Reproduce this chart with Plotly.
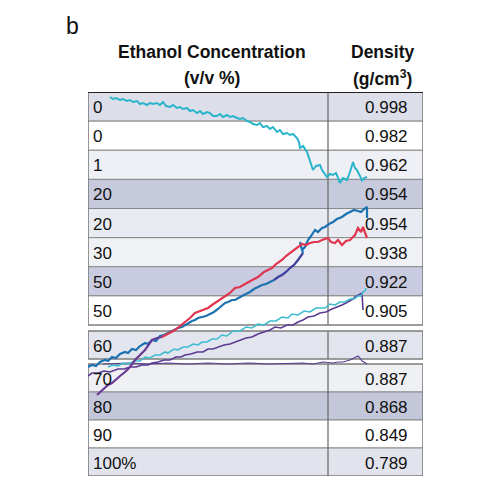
import plotly.graph_objects as go

# ── Table content ──────────────────────────────────────
concentration = ['0', '0', '1', '20', '20', '30', '50', '50',
                 '60', '70', '80', '90', '100%']
density = ['0.998', '0.982', '0.962', '0.954', '0.954', '0.938', '0.922', '0.905',
           '0.887', '0.887', '0.868', '0.849', '0.789']

# ── Traces (time along x, signal down the table) ───────
top_cyan_x = [22, 25, 28, 32, 35, 39, 42, 45, 49, 52, 55, 59, 62, 65, 69, 72, 75, 78, 82, 85,
              89, 92, 95, 99, 102, 105, 109, 112, 115, 119, 122, 125, 129, 132, 135, 139, 142,
              145, 149, 152, 155, 159, 162, 165, 169, 172, 175, 179, 182, 185, 189, 192, 195,
              199, 202, 205, 209, 211, 212, 215, 219, 221, 223, 225, 228, 232, 234, 237, 239,
              242, 245, 248, 252, 255, 259, 262, 265, 267, 269, 272, 274, 276, 279]
top_cyan_y = [5, 7, 6, 8, 7, 9, 8, 10, 9, 12, 11, 13, 11, 12, 11, 13, 10, 14, 15, 13,
              16, 15, 17, 16, 19, 18, 21, 19, 22, 20, 21, 24, 24, 22, 25, 23, 25,
              24, 26, 27, 26, 29, 30, 32, 33, 31, 35, 34, 37, 35, 40, 38, 42,
              41, 43, 42, 46, 50, 56, 54, 60, 66, 71, 78, 74, 73, 78, 83, 85,
              82, 83, 81, 91, 86, 88, 80, 70, 76, 78, 84, 89, 86, 85]

blue_a_x = [0, 4, 8, 12, 17, 20, 24, 28, 32, 37, 40, 44, 48, 52, 57, 60, 64, 68, 72, 76,
            80, 84, 87, 90, 94, 97, 100, 104, 107, 110, 114, 118, 122, 126, 130, 134, 137,
            140, 144, 147, 150, 154, 158, 162, 166, 170, 174, 178, 182, 186]
blue_a_y = [275, 273, 274, 270, 268, 269, 265, 266, 262, 260, 261, 257, 258, 254, 251, 252,
            248, 249, 244, 243, 241, 239, 238, 236, 235, 233, 231, 229, 228, 226, 225, 224,
            222, 220, 217, 213, 211, 210, 208, 208, 206, 204, 202, 200, 197, 195, 193, 192,
            190, 188]
indigo_x = [186, 190, 194, 198, 202, 206, 210, 213, 215]
indigo_y = [188, 185, 183, 180, 176, 173, 168, 164, 161]
blue_b_x = [215, 212, 214, 217, 220, 223, 227, 230, 234, 237, 241, 245, 249, 254, 258, 262,
            266, 270, 273, 276, 279, 279]
blue_b_y = [161, 150, 158, 155, 148, 144, 138, 140, 136, 135, 132, 130, 127, 125, 122, 120,
            118, 119, 120, 117, 115, 126]

red_start_x = [9, 12, 16, 20, 24, 28, 32, 37, 42, 47, 52, 57, 62, 64, 69, 74]
red_start_y = [303, 300, 296, 293, 291, 287, 284, 280, 275, 268, 263, 258, 251, 248, 246, 245]
red_x = [74, 78, 83, 87, 92, 97, 102, 107, 112, 116, 120, 124, 127, 132, 137, 142, 147, 152,
         157, 162, 166, 170, 176, 180, 184, 188, 194, 198, 203, 207, 211, 214, 218, 222, 226,
         230, 234, 237, 240, 243, 247, 250, 254, 258, 262, 264, 267, 270, 273, 275, 277, 279]
red_y = [245, 243, 240, 238, 234, 230, 226, 221, 219, 217, 216, 213, 211, 208, 205, 201, 196,
         195, 192, 189, 187, 185, 180, 178, 176, 172, 168, 164, 160, 157, 154, 152, 153, 151,
         150, 150, 148, 147, 146, 150, 151, 148, 153, 149, 148, 146, 143, 136, 140, 135, 141, 146]

low_cyan_x = [20, 25, 30, 35, 40, 47, 52, 57, 62, 67, 72, 77, 80, 86, 90, 95, 100, 105, 110,
              114, 119, 124, 129, 134, 139, 145, 152, 158, 164, 170, 176, 182, 188, 194, 200,
              204, 210, 216, 222, 228, 237, 242, 247, 252, 257, 262, 266, 270, 273, 275, 277, 278]
low_cyan_y = [275, 273, 274, 271, 272, 269, 269, 265, 266, 263, 263, 260, 261, 257, 258, 255,
              255, 252, 253, 250, 250, 247, 247, 243, 244, 239, 239, 235, 236, 232, 233, 229,
              229, 225, 226, 222, 223, 219, 220, 216, 216, 212, 213, 210, 210, 207, 207, 204,
              204, 200, 199, 196]

low_purple_x = [0, 4, 10, 16, 22, 30, 36, 42, 48, 54, 60, 64, 70, 76, 82, 88, 93, 97, 103,
                109, 115, 120, 125, 130, 136, 142, 147, 152, 158, 164, 170, 176, 182, 187, 193,
                199, 205, 210, 215, 220, 226, 232, 238, 244, 250, 254, 258, 262, 265, 267, 270,
                272, 274, 275]
low_purple_y = [284, 281, 281, 279, 280, 277, 277, 275, 275, 273, 273, 271, 270, 268, 268, 265,
                265, 263, 262, 260, 260, 257, 257, 255, 253, 252, 250, 248, 246, 245, 242, 240,
                238, 235, 236, 233, 233, 230, 228, 225, 224, 221, 220, 217, 215, 213, 211, 209,
                207, 205, 203, 202, 201, 218]

flat_x = [15, 40, 60, 80, 100, 120, 140, 160, 180, 200, 215, 225, 235, 245, 250, 255, 262,
          266, 270, 272, 274, 276, 279]
flat_y = [272, 271, 272, 271, 272, 271, 272, 271, 272, 271, 271, 272, 270, 271, 270, 270,
          268, 266, 264, 266, 269, 270, 272]

# ── Style ──────────────────────────────────────────────
FONT = 'Liberation Sans, Arial, sans-serif'
row_fill = ['#dcdfea', '#ffffff', '#eef0f5', '#c7cadd', '#e9ebf2', '#f0f1f5', '#c9cce0',
            '#ffffff', '#e3e5ee', '#eef0f4', '#c4c7da', '#ffffff', '#e1e4ed']
BORDER = '#8a8a8a'
TABLE_W = 335
TABLE_H = 384
COL_SPLIT = 240

# row geometry: 8 rows, gap, one row, gap, 4 rows
row_top, row_h = [], []
for i in range(8):
    row_top.append(29.125 * i)
    row_h.append(29.125)
row_top.append(239)
row_h.append(28)
for k in range(4):
    row_top.append(272 + 28 * k)
    row_h.append(28)


def px(x):   # table units -> paper
    return x / TABLE_W


def py(y):
    return 1 - y / TABLE_H


fig = go.Figure()

shapes = []
annotations = []
for i, (c, d) in enumerate(zip(concentration, density)):
    y0, y1 = row_top[i], row_top[i] + row_h[i]
    shapes.append(dict(type='rect', xref='x', yref='y', x0=0, x1=TABLE_W, y0=y0, y1=y1,
                       fillcolor=row_fill[i], line=dict(color=BORDER, width=1), layer='below'))
    annotations.append(dict(x=3, y=(y0 + y1) / 2 + 1, xref='x', yref='y', text=c,
                            showarrow=False, xanchor='left', yanchor='middle',
                            font=dict(family=FONT, size=17, color='#111')))
    annotations.append(dict(x=322, y=(y0 + y1) / 2 + 1, xref='x', yref='y', text=d,
                            showarrow=False, xanchor='right', yanchor='middle',
                            font=dict(family=FONT, size=17, color='#111')))

# column divider per block
for y0, y1 in [(0, 233), (239, 267), (272, 384)]:
    shapes.append(dict(type='line', xref='x', yref='y', x0=COL_SPLIT, x1=COL_SPLIT,
                       y0=y0, y1=y1, line=dict(color='#666', width=1.2), layer='below'))
    shapes.append(dict(type='rect', xref='x', yref='y', x0=0, x1=TABLE_W, y0=y0, y1=y1,
                       line=dict(color='#777', width=1.2), layer='below'))
shapes.append(dict(type='line', xref='x', yref='y', x0=0, x1=TABLE_W, y0=0, y1=0,
                   line=dict(color='#222', width=2.2), layer='below'))

# header (outside the table, so in paper coords)
for x, y, t in [(124, -40, '<b>Ethanol Concentration</b>'), (124, -14, '<b>(v/v %)</b>'),
                (294, -40, '<b>Density</b>'), (294, -14, '<b>(g/cm<sup>3</sup>)</b>')]:
    annotations.append(dict(x=px(x), y=py(y), xref='paper', yref='paper', text=t,
                            showarrow=False, xanchor='center', yanchor='middle',
                            font=dict(family=FONT, size=17.5, color='#111')))
annotations.append(dict(x=px(-16), y=py(-66), xref='paper', yref='paper', text='b',
                        showarrow=False, xanchor='center', yanchor='middle',
                        font=dict(family=FONT, size=23, color='#111')))


def add_line(x, y, color, width):
    fig.add_trace(go.Scatter(x=x, y=y, mode='lines', line=dict(color=color, width=width),
                             hoverinfo='skip', showlegend=False))


add_line(flat_x, flat_y, '#5a3d92', 1.1)
add_line(low_purple_x, low_purple_y, '#5c3a93', 1.6)
add_line(low_cyan_x, low_cyan_y, '#3ebdd1', 1.6)
add_line(blue_a_x, blue_a_y, '#1c72b1', 2.2)
add_line(indigo_x, indigo_y, '#3c3f9c', 2.2)
add_line(blue_b_x, blue_b_y, '#1c72b1', 2.2)
add_line(red_start_x, red_start_y, '#6a3b96', 2.2)
add_line(red_x, red_y, '#e0354f', 2.2)
add_line(top_cyan_x, top_cyan_y, '#2ab4cc', 2)

# page body adds an 8px offset, so the margins are trimmed by that much
fig.update_layout(
    width=500, height=500,
    margin=dict(l=80, r=85, t=84, b=32),
    plot_bgcolor='white', paper_bgcolor='white',
    xaxis=dict(range=[0, TABLE_W], visible=False, showgrid=False, zeroline=False),
    yaxis=dict(range=[TABLE_H, 0], visible=False, showgrid=False, zeroline=False),
    shapes=shapes, annotations=annotations,
)
fig.write_html('out.html')
